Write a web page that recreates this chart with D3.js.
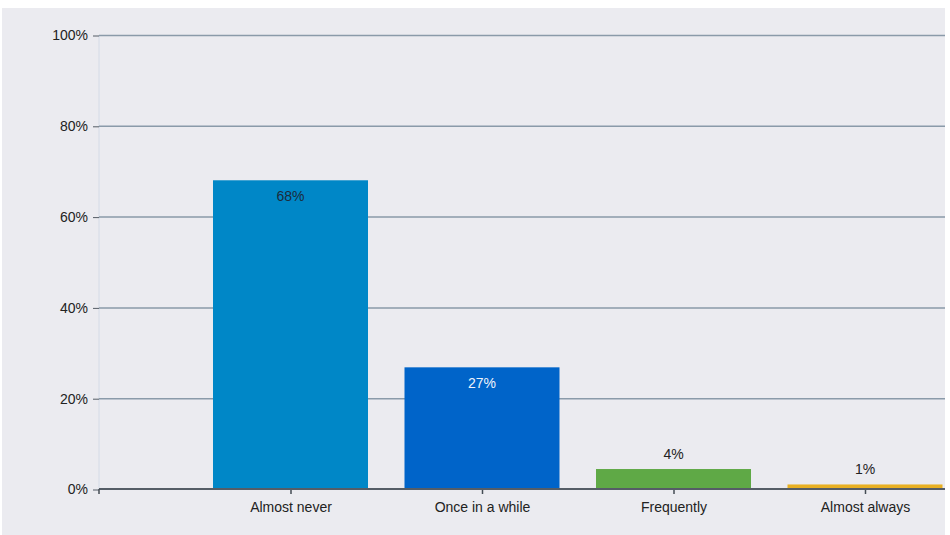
<!DOCTYPE html>
<html>
<head>
<meta charset="utf-8">
<script src="https://cdn.jsdelivr.net/npm/d3@7"></script>
<style>
  html, body { margin: 0; padding: 0; background: #ffffff; }
  svg { display: block; }
  text { font-family: "Liberation Sans", Arial, sans-serif; }
</style>
</head>
<body>
<svg id="chart" width="950" height="535"></svg>
<script>
const categories = ["Almost never", "Once in a while", "Frequently", "Almost always"];
const values = [68.0, 26.8, 4.4, 1.0];
const barColors = ["#0087c7", "#0064c9", "#5fa946", "#e8b023"];
const labelInside = [true, true, false, false];
const labelColors = ["#1c2b3a", "#eef3fb", "#222222", "#222222"];
const yTicks = [0, 20, 40, 60, 80, 100];

const svg = d3.select("#chart");
const W = 950, H = 535;

// panel background
svg.append("rect").attr("x", 2).attr("y", 8).attr("width", 943).attr("height", H - 8).attr("fill", "#ebebf0");

const plotLeft = 99, plotRight = 945, plotTop = 35, plotBottom = 489;
const y = d3.scaleLinear().domain([0, 100]).range([plotBottom, plotTop]);
// category positions: one empty slot before first category
const x = d3.scaleLinear().domain([0, categories.length + 1]).range([plotLeft, plotLeft + 191.5 * (categories.length + 1)]);
const barW = 155 / 191.5;

const g = svg.append("g");
const clip = svg.append("clipPath").attr("id", "plotclip");
clip.append("rect").attr("x", 2).attr("y", 8).attr("width", plotRight - 2).attr("height", H - 8);
g.attr("clip-path", "url(#plotclip)");

// y-axis faint line
g.append("line").attr("x1", plotLeft).attr("x2", plotLeft).attr("y1", y(100)).attr("y2", plotBottom)
  .attr("stroke", "#d4dbe7").attr("stroke-width", 1);

// gridlines
g.selectAll("line.grid").data(yTicks.filter(t => t > 0)).enter().append("line")
  .attr("class", "grid")
  .attr("x1", plotLeft).attr("x2", plotRight)
  .attr("y1", d => y(d) + 0.5).attr("y2", d => y(d) + 0.5)
  .attr("stroke", "#8a9aa9").attr("stroke-width", 1.5);

// y axis ticks and labels
const yAxis = d3.axisLeft(y).tickValues(yTicks).tickSize(6).tickPadding(5).tickFormat(d => d + "%");
const ya = svg.append("g").attr("transform", `translate(${plotLeft},0.5)`).call(yAxis);
ya.select(".domain").remove();
ya.selectAll(".tick line").attr("stroke", "#555d66");
ya.selectAll(".tick text").attr("font-size", 14).attr("fill", "#222").attr("font-family", "Liberation Sans, Arial, sans-serif");

// bars
g.selectAll("rect.bar").data(values).enter().append("rect")
  .attr("class", "bar")
  .attr("x", (d, i) => x(i + 1 - barW / 2))
  .attr("width", x(barW) - x(0))
  .attr("y", d => y(d))
  .attr("height", d => plotBottom - y(d))
  .attr("fill", (d, i) => barColors[i]);

// baseline axis
const xAxis = d3.axisBottom(x).tickValues(categories.map((c, i) => i + 1)).tickSize(5).tickPadding(8)
  .tickFormat((d) => categories[d - 1]);
const xa = svg.append("g").attr("transform", `translate(0,${plotBottom})`).call(xAxis);
xa.select(".domain").remove();
xa.selectAll(".tick line").attr("stroke", "#444c55").attr("stroke-width", 1.5);
xa.selectAll(".tick text").attr("font-size", 14).attr("fill", "#222").attr("font-family", "Liberation Sans, Arial, sans-serif");
svg.append("line").attr("x1", plotLeft).attr("x2", plotRight).attr("y1", plotBottom).attr("y2", plotBottom)
  .attr("stroke", "#555d66").attr("stroke-width", 2);
// origin tick
svg.append("line").attr("x1", plotLeft).attr("x2", plotLeft).attr("y1", plotBottom).attr("y2", plotBottom + 5)
  .attr("stroke", "#444c55").attr("stroke-width", 1.5);

// value labels
svg.selectAll("text.val").data(values).enter().append("text")
  .attr("class", "val")
  .attr("x", (d, i) => x(i + 1))
  .attr("y", (d, i) => labelInside[i] ? y(d) + 21 : y(d) - 10)
  .attr("text-anchor", "middle")
  .attr("font-size", 14)
  .attr("fill", (d, i) => labelColors[i])
  .text(d => Math.round(d) + "%");
</script>
</body>
</html>
